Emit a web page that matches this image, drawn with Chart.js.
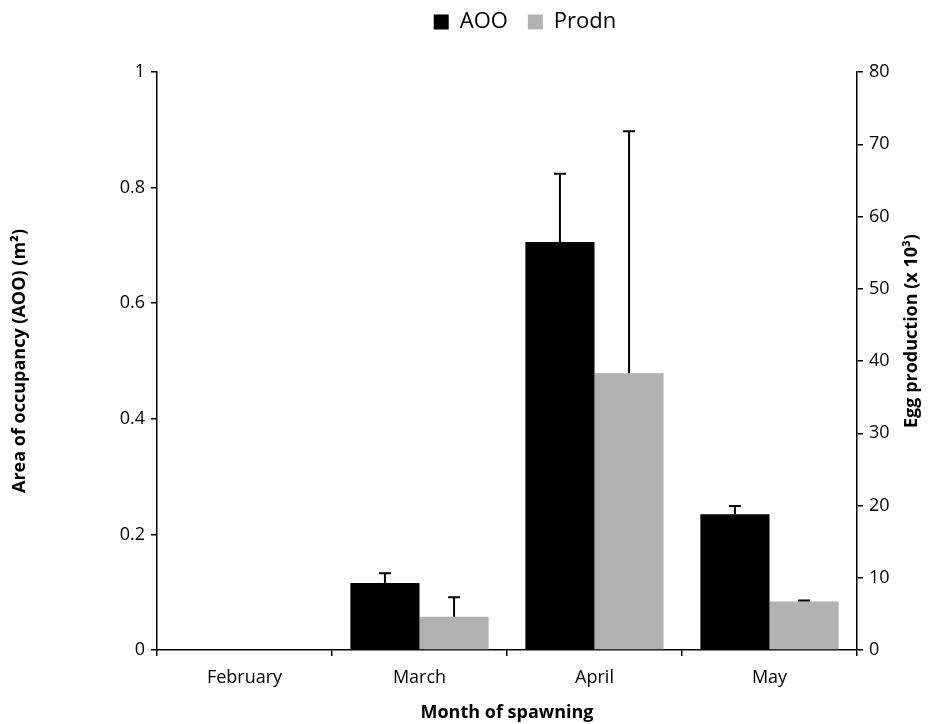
<!DOCTYPE html>
<html>
<head>
<meta charset="utf-8">
<script src="https://cdn.jsdelivr.net/npm/chart.js@4.4.0/dist/chart.umd.min.js"></script>
<style>
  html, body { margin: 0; padding: 0; background: #fff; }
  #wrap { width: 930px; height: 724px; }
</style>
</head>
<body>
<div id="wrap"><canvas id="chart" width="930" height="724"></canvas></div>
<script>
// values
const months = ['February', 'March', 'April', 'May']
const aoo = [0, 0.116, 0.706, 0.235]
const aooErr = [0, 0.017, 0.118, 0.014]
const prodn = [0, 4.6, 38.3, 6.7]
const prodnErr = [0, 2.7, 33.5, 0.15]

const FONT = "'Open Sans', 'DejaVu Sans', sans-serif"
const errs = [aooErr, prodnErr]
const rightTitle = 'Egg production (x 10³)'

// upward error bars drawn through the chart's own scales
const errorBars = {
  id: 'errorBars',
  afterDatasetsDraw(chart) {
    const ctx = chart.ctx
    chart.data.datasets.forEach((ds, i) => {
      const meta = chart.getDatasetMeta(i)
      const scale = chart.scales[ds.yAxisID]
      meta.data.forEach((bar, j) => {
        const e = errs[i][j]
        if (!e) return
        const y0 = scale.getPixelForValue(ds.data[j])
        const y1 = scale.getPixelForValue(ds.data[j] + e)
        ctx.save()
        ctx.strokeStyle = '#000'
        ctx.lineWidth = 2
        ctx.beginPath()
        ctx.moveTo(bar.x, y0)
        ctx.lineTo(bar.x, y1)
        ctx.moveTo(bar.x - 6, y1)
        ctx.lineTo(bar.x + 6, y1)
        ctx.stroke()
        ctx.restore()
      })
    })
  }
}

// right axis title reads bottom to top, like the left one
const rightAxisTitle = {
  id: 'rightAxisTitle',
  afterDraw(chart) {
    const ctx = chart.ctx
    const s = chart.scales.y2
    ctx.save()
    ctx.translate(s.right - 18, chart.chartArea.top + 259)
    ctx.rotate(-Math.PI / 2)
    ctx.font = 'bold 18px ' + FONT
    ctx.fillStyle = '#000'
    ctx.textAlign = 'center'
    ctx.textBaseline = 'middle'
    ctx.fillText(rightTitle, 0, 0)
    ctx.restore()
  }
}

// legend takes the whole top band, drawn a bit higher and right of centre
const legendBand = {
  id: 'legendBand',
  beforeLayout(chart) {
    const lg = chart.legend
    if (!lg || lg._banded) return
    const fit = lg.fit.bind(lg)
    lg.fit = function () { fit(); this.height = 72 }
    lg._banded = true
  },
  afterLayout(chart) {
    const lg = chart.legend
    lg.top = -9
    lg.left += 60
    lg.right += 60
  }
}

const tickFont = { family: FONT, size: 18 }
const titleFont = { family: FONT, size: 18, weight: 'bold' }
const fmt = v => String(Math.round(v * 10) / 10)

new Chart(document.getElementById('chart'), {
  type: 'bar',
  data: {
    labels: months,
    datasets: [
      { label: 'AOO', data: aoo, backgroundColor: '#000', yAxisID: 'y', barPercentage: 1, categoryPercentage: 0.79 },
      { label: 'Prodn', data: prodn, backgroundColor: '#b2b2b2', yAxisID: 'y2', barPercentage: 1, categoryPercentage: 0.79 }
    ]
  },
  options: {
    responsive: false,
    animation: false,
    layout: { padding: 0 },
    plugins: {
      tooltip: { enabled: false },
      legend: {
        position: 'top',
        labels: {
          color: '#000',
          font: { family: FONT, size: 22 },
          boxWidth: 15, boxHeight: 15,
          padding: 20
        }
      }
    },
    scales: {
      x: {
        grid: { display: true, offset: true, drawOnChartArea: false, drawTicks: true, tickLength: 6, color: '#000', lineWidth: 1.5 },
        border: { display: true, color: '#000', width: 1.5 },
        ticks: { color: '#000', font: tickFont, padding: 11, maxRotation: 0 },
        title: { display: true, text: 'Month of spawning', color: '#000', font: titleFont, padding: { top: 4, bottom: 0 } },
        afterFit(s) { s.height = 74 }
      },
      y: {
        position: 'left', min: 0, max: 1,
        grid: { display: true, drawOnChartArea: false, drawTicks: true, tickLength: 6, color: '#000', lineWidth: 1.5 },
        border: { display: true, color: '#000', width: 1.5 },
        ticks: { stepSize: 0.2, color: '#000', font: tickFont, padding: 6, callback: fmt },
        title: { display: true, text: 'Area of occupancy (AOO) (m²)', color: '#000', font: titleFont, padding: { top: 9, bottom: 0 } },
        afterFit(s) { s.width = 157 }
      },
      y2: {
        position: 'right', min: 0, max: 80,
        grid: { display: true, drawOnChartArea: false, drawTicks: true, tickLength: 6, color: '#000', lineWidth: 1.5 },
        border: { display: true, color: '#000', width: 1.5 },
        ticks: { stepSize: 10, color: '#000', font: tickFont, padding: 6 },
        title: { display: false },
        afterFit(s) { s.width = 73 }
      }
    }
  },
  plugins: [errorBars, legendBand, rightAxisTitle]
})
</script>
</body>
</html>
